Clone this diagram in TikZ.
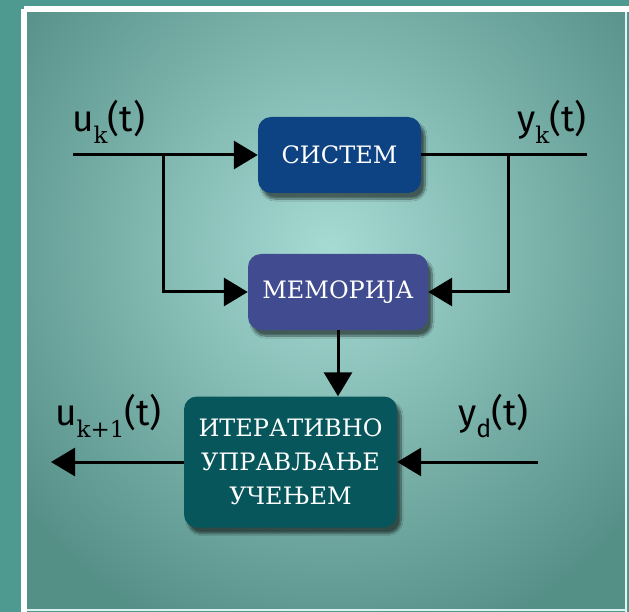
\documentclass[tikz,border=0pt]{standalone}
\usepackage{fontspec}
\setmainfont{DejaVu Serif}
\newfontfamily\lblfont{Fira Sans}
\newfontfamily\subfont{DejaVu Serif}
\usetikzlibrary{arrows.meta,shadows.blur}
\definecolor{outerbg}{HTML}{4F9A90}
\definecolor{bgedge}{HTML}{5AA298}
\definecolor{bgcenter}{HTML}{A6DBD4}
\definecolor{sysblue}{HTML}{0D4382}
\definecolor{memviolet}{HTML}{414C90}
\definecolor{iterteal}{HTML}{07565C}
\tikzset{
  block/.style={rounded corners=13pt, text=white, align=center, inner sep=0pt,
    font=\fontsize{24}{34}\selectfont,
    blur shadow={shadow xshift=4pt, shadow yshift=-6pt, shadow blur steps=10, shadow opacity=55, shadow blur extra rounding=3pt}},
  conn/.style={line width=3pt, draw=black},
  tip/.style={-{Triangle[length=24pt,width=28pt]}},
  sig/.style={font=\lblfont\fontsize{37}{37}\selectfont, inner sep=0pt, anchor=base west},
}
\newcommand{\sbk}[1]{\raisebox{-12pt}{\subfont\fontsize{23}{23}\selectfont #1}}
\begin{document}
\begin{tikzpicture}[x=1pt,y=-1pt]
\useasboundingbox (0,0) rectangle (629,612);
\fill[outerbg] (0,0) rectangle (629,612);
\begin{scope}
\clip (27,12) rectangle (626,609);
\fill[bgedge] (27,12) rectangle (626,609);
\shade[inner color=bgcenter, outer color=bgedge!85!black!95, shading=radial] (-60,-160) rectangle (720,660);
\end{scope}
\draw[white, line width=6pt] (24,9) -- (629,9);
\draw[white, line width=6pt] (24,9) -- (24,612);
\draw[white!70!bgcenter, line width=2pt] (626,12) -- (626,612);
\draw[white!60!bgcenter, line width=2pt] (27,610) -- (626,610);

% blocks
\node[block, fill=sysblue, minimum width=163pt, minimum height=76pt] (sys) at (339.5,155) {СИСТЕМ};
\node[block, fill=memviolet, minimum width=180pt, minimum height=76pt] (mem) at (338,292) {МЕМОРИЈА};
\node[block, fill=iterteal, minimum width=213pt, minimum height=131pt] (ilc) at (290.5,462) {ИТЕРАТИВНО\\УПРАВЉАЊЕ\\УЧЕЊЕМ};

% free ends
\coordinate (uin) at (73,155);
\coordinate (ubr) at (163,155);
\coordinate (yout) at (587,155);
\coordinate (ybr) at (508,155);
\coordinate (ydin) at (538,462);
\coordinate (uout) at (51,462);

% connectors
\draw[conn, tip] (uin) -- (sys.west);
\draw[conn, tip] (ubr) |- (mem.west);
\draw[conn] (sys.east) -- (yout);
\draw[conn, tip] (ybr) |- (mem.east);
\draw[conn, tip] (mem.south) -- (mem.south |- ilc.north);
\draw[conn, tip] (ydin) -- (ilc.east);
\draw[conn, tip] (ilc.west) -- (uout);

% labels
\node[sig] (luk) at (72,132) {u\sbk{k}(t)};
\node[sig] (lyk) at (517,132) {y\sbk{k}(t)};
\node[sig] (luk1) at (55,425) {u\sbk{k+1}(t)};
\node[sig] (lyd) at (458,425) {y\raisebox{-12pt}{\lblfont\fontsize{25}{25}\selectfont d}(t)};
\end{tikzpicture}
\end{document}
